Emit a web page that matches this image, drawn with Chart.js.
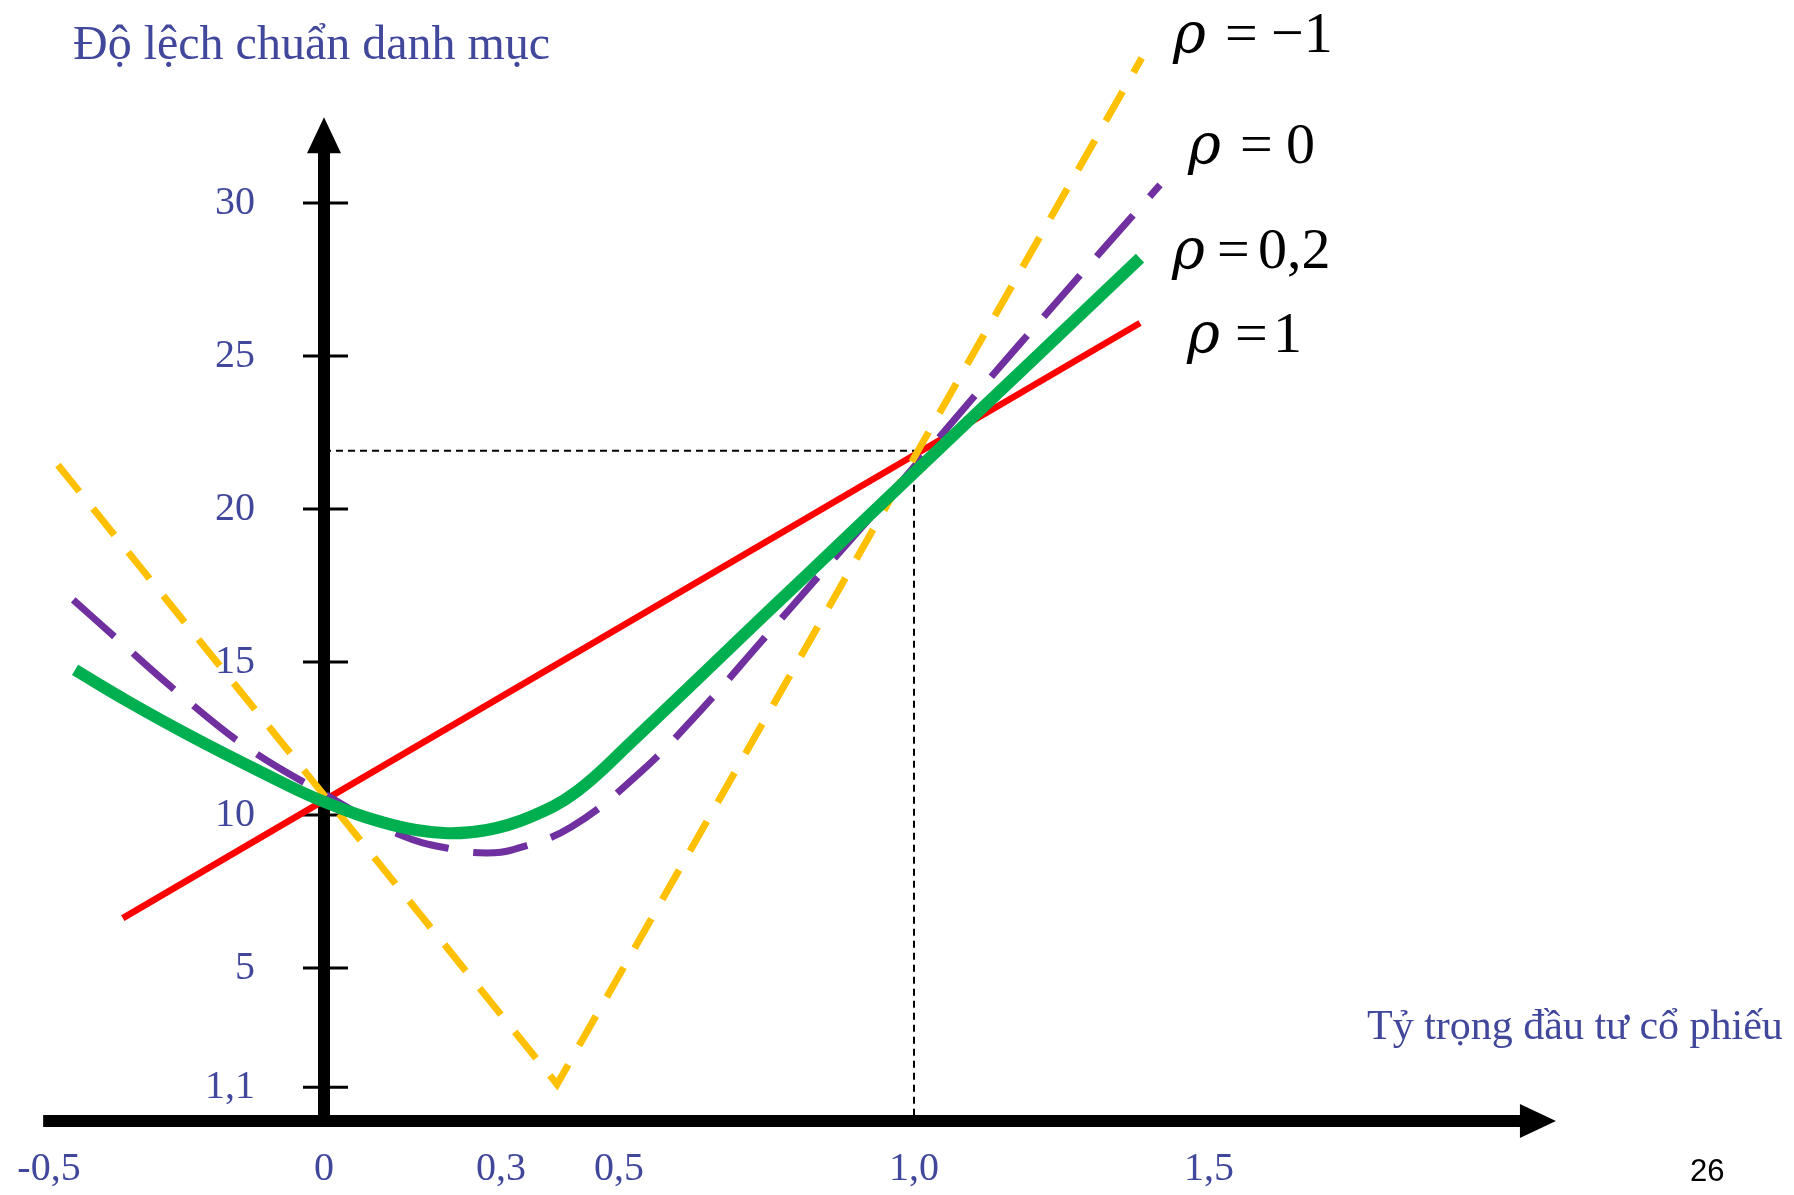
<!DOCTYPE html>
<html>
<head>
<meta charset="utf-8">
<script src="https://cdn.jsdelivr.net/npm/chart.js@4.4.0/dist/chart.umd.min.js"></script>
<style>
    html, body { margin: 0; padding: 0; background: #fff; }
    #wrap { width: 1794px; height: 1195px; }
</style>
</head>
<body>
<div id="wrap"><canvas id="portfolioChart" width="1794" height="1195"></canvas></div>
<script>
const xTicks = [-0.5, 0, 0.3, 0.5, 1.0, 1.5];
const xTickLabels = ['\u2003-0,5', '0', '0,3', '0,5', '1,0', '1,5'];
const yTicks = [1.1, 5, 10, 15, 20, 25, 30];
const yTickLabels = ['1,1', '5', '10', '15', '20', '25', '30'];

// rho = 1 : straight line
const rho1X = [-0.341, 1.383];
const rho1Y = [6.63, 26.08];

// rho = -1 : V shape
const rhoNeg1X = [-0.451, 0.395, 1.386];
const rhoNeg1Y = [21.44, 1.2, 34.74];

// rho = 0
const rho0X = [-0.425, -0.358, -0.247, -0.129, -0.002, 0.129, 0.224, 0.276, 0.319, 0.419, 0.537, 0.639, 0.739, 0.837, 0.934, 1.129, 1.227, 1.325, 1.417];
const rho0Y = [17.03, 15.88, 13.99, 12.19, 10.72, 9.35, 8.86, 8.76, 8.86, 9.61, 11.41, 13.43, 15.62, 17.78, 19.90, 24.28, 26.44, 28.59, 30.59];

// rho = 0,2
const rho02X = [-0.422, -0.334, -0.222, -0.108, -0.002, 0.117, 0.203, 0.276, 0.349, 0.427, 0.519, 0.761, 0.873, 1.044, 1.202, 1.383];
const rho02Y = [14.74, 13.73, 12.54, 11.42, 10.45, 9.67, 9.41, 9.51, 9.93, 10.75, 12.35, 16.80, 18.85, 21.99, 24.88, 28.20];

// dashed guide at weight 1,0
const guideX = [0, 1, 1];
const guideY = [21.9, 21.9, 0];

const rhoValues = ['\u22121', '0', '0,2', '1'];

const serif = "'Liberation Serif', 'Times New Roman', serif";
const labelBlue = '#41479B';

function toPoints(xs, ys) {
    return xs.map((x, i) => ({ x: x, y: ys[i] }));
}

// black axes with arrow heads, crossing at (0, 0)
const axisArrows = {
    id: 'axisArrows',
    beforeDatasetsDraw(chart) {
        const { ctx, scales: { x, y } } = chart;
        const x0 = x.getPixelForValue(0);
        const y0 = y.getPixelForValue(0);
        const xStart = x.getPixelForValue(-0.476);
        const xTip = x.getPixelForValue(2.088);
        const yTip = y.getPixelForValue(32.8);
        const head = 36, half = 17;

        ctx.save();
        ctx.fillStyle = '#000';
        ctx.strokeStyle = '#000';
        ctx.lineWidth = 12;
        ctx.lineCap = 'butt';

        ctx.beginPath();
        ctx.moveTo(xStart, y0);
        ctx.lineTo(xTip - head + 2, y0);
        ctx.moveTo(x0, y0 + 6);
        ctx.lineTo(x0, yTip + head - 2);
        ctx.stroke();

        ctx.beginPath();
        ctx.moveTo(xTip, y0);
        ctx.lineTo(xTip - head, y0 - half);
        ctx.lineTo(xTip - head, y0 + half);
        ctx.closePath();
        ctx.fill();

        ctx.beginPath();
        ctx.moveTo(x0, yTip);
        ctx.lineTo(x0 - half, yTip + head);
        ctx.lineTo(x0 + half, yTip + head);
        ctx.closePath();
        ctx.fill();

        // tick marks across the vertical axis
        ctx.lineWidth = 3;
        ctx.beginPath();
        y.ticks.forEach(t => {
            const py = y.getPixelForValue(t.value);
            ctx.moveTo(x0 - 21, py);
            ctx.lineTo(x0 + 24, py);
        });
        ctx.stroke();
        ctx.restore();
    }
};

// titles, rho labels and slide number
const textLayer = {
    id: 'textLayer',
    afterDraw(chart) {
        const { ctx } = chart;
        ctx.save();
        ctx.textBaseline = 'alphabetic';
        ctx.textAlign = 'left';

        ctx.fillStyle = labelBlue;
        ctx.font = '48px ' + serif;
        ctx.fillText('Độ lệch chuẩn danh mục', 73, 59);
        ctx.font = '42px ' + serif;
        ctx.fillText('Tỷ trọng đầu tư cổ phiếu', 1367, 1039);

        // [left, baseline, offset of "=", offset of value]
        const rhoPos = [[1173, 52, 52, 98], [1188, 163, 52, 98], [1172, 268, 45, 86], [1187, 352, 48, 86]];
        ctx.fillStyle = '#000';
        rhoValues.forEach((v, i) => {
            const [px, py, eq, val] = rhoPos[i];
            ctx.font = "italic 56px 'DejaVu Serif', serif";
            ctx.fillText('\u03C1', px, py);
            ctx.font = '58px ' + serif;
            ctx.fillText('=', px + eq, py);
            ctx.fillText(v, px + val, py);
        });

        ctx.font = "31px 'Liberation Sans Narrow', 'Liberation Sans', sans-serif";
        ctx.fillText('26', 1690, 1181);
        ctx.restore();
    }
};

const ctx = document.getElementById('portfolioChart').getContext('2d');

const chart = new Chart(ctx, {
    type: 'line',
    data: {
        datasets: [
            {
                label: 'guide',
                data: toPoints(guideX, guideY),
                borderColor: '#000',
                borderWidth: 2,
                borderDash: [7, 5],
                order: 5
            },
            {
                label: '\u03C1 = 1',
                data: toPoints(rho1X, rho1Y),
                borderColor: '#FF0000',
                borderWidth: 6.5,
                order: 4
            },
            {
                label: '\u03C1 = 0',
                data: toPoints(rho0X, rho0Y),
                borderColor: '#7030A0',
                borderWidth: 7,
                borderDash: [55, 25],
                tension: 0.4,
                order: 3
            },
            {
                label: '\u03C1 = -1',
                data: toPoints(rhoNeg1X, rhoNeg1Y),
                borderColor: '#FFC000',
                borderWidth: 7,
                borderDash: [34, 22],
                order: 2
            },
            {
                label: '\u03C1 = 0,2',
                data: toPoints(rho02X, rho02Y),
                borderColor: '#00B050',
                borderWidth: 12,
                tension: 0.4,
                order: 1
            }
        ]
    },
    options: {
        responsive: false,
        devicePixelRatio: 1,
        animation: false,
        layout: {
            padding: { left: 5.4, right: 172, top: 19.4, bottom: 74 }
        },
        elements: {
            point: { radius: 0, hoverRadius: 0 },
            line: { tension: 0, fill: false }
        },
        plugins: {
            legend: { display: false },
            tooltip: { enabled: false }
        },
        scales: {
            x: {
                type: 'linear',
                min: -0.54,
                max: 2.2,
                position: { y: 0 },
                grid: { display: false, drawTicks: false },
                border: { display: false },
                afterBuildTicks: scale => { scale.ticks = xTicks.map(v => ({ value: v })); },
                afterFit: scale => { scale.paddingLeft = 0; scale.paddingRight = 0; },
                ticks: {
                    autoSkip: false,
                    maxRotation: 0,
                    padding: 24,
                    color: labelBlue,
                    font: { family: serif, size: 40 },
                    callback: v => xTickLabels[xTicks.indexOf(v)]
                }
            },
            y: {
                type: 'linear',
                min: 0,
                max: 36,
                // labels sit to the left of the drawn vertical axis
                position: { x: -0.117 },
                grid: { display: false, drawTicks: false },
                border: { display: false },
                afterBuildTicks: scale => { scale.ticks = yTicks.map(v => ({ value: v })); },
                afterFit: scale => { scale.paddingTop = 0; scale.paddingBottom = 0; },
                ticks: {
                    autoSkip: false,
                    padding: 0,
                    color: labelBlue,
                    font: { family: serif, size: 40 },
                    callback: v => yTickLabels[yTicks.indexOf(v)]
                }
            }
        }
    },
    plugins: [axisArrows, textLayer]
});
</script>
</body>
</html>
